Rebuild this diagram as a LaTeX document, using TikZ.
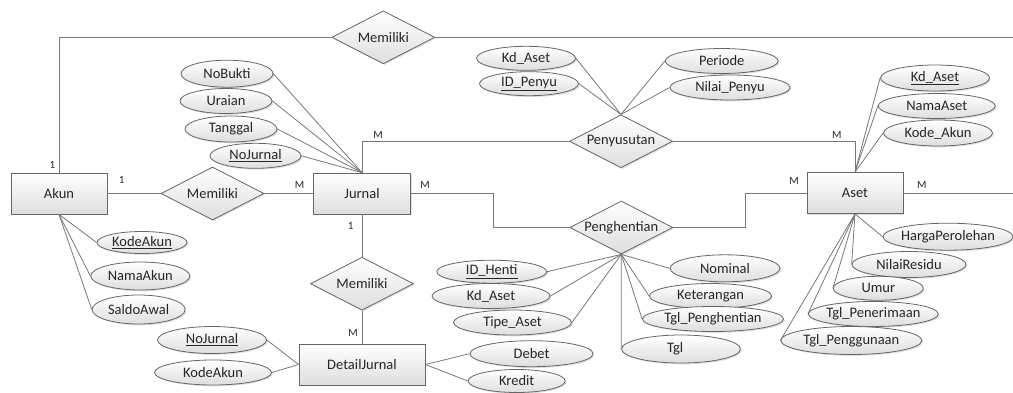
\documentclass[tikz,border=0pt]{standalone}
\usepackage{fontspec}
\setmainfont{Carlito}
\usetikzlibrary{shapes.geometric,shadows}
\definecolor{ln}{HTML}{787878}
\definecolor{edge}{HTML}{666666}
\definecolor{tx}{HTML}{262626}
\begin{document}
\begin{tikzpicture}[x=1pt,y=-1pt,
  base/.style={draw=edge, line width=0.8pt, top color=white, bottom color=black!13,
    drop shadow={opacity=0.25, shadow xshift=1.3pt, shadow yshift=-1.3pt},
    text=tx, font=\fontsize{14.5}{16}\selectfont, inner sep=0pt},
  entity/.style={base, rectangle, minimum width=#1, minimum height=41pt},
  attr/.style 2 args={base, ellipse, inner xsep=-8pt, minimum width=#1, minimum height=#2},
  rel/.style={base, diamond, aspect=2, minimum width=103pt, minimum height=53pt},
  conn/.style={draw=ln, line width=0.8pt},
  card/.style={text=tx, font=\fontsize{11}{12}\selectfont, inner sep=0pt}]
\useasboundingbox (0,0) rectangle (1013,392);
\fill[white] (0,0) rectangle (1013,392);

% entities
\node[entity=96pt] (Akun) at (59,193.5) {Akun};
\node[entity=97pt] (Jurnal) at (362,193.5) {Jurnal};
\node[entity=96pt] (Aset) at (855,193) {Aset};
\node[entity=126pt] (DJ) at (362,364.5) {DetailJurnal};

% relationships
\node[rel] (R1) at (383.3,37.3) {Memiliki};
\node[rel] (R2) at (212.5,193.5) {Memiliki};
\node[rel] (R3) at (362,283.7) {Memiliki};
\node[rel] (Pys) at (621,141.3) {Penyusutan};
\node[rel] (Phn) at (621.3,227.5) {Penghentian};

% Jurnal attributes
\node[attr={92pt}{27pt}] (NoBukti) at (227,73.7) {NoBukti};
\node[attr={92pt}{25pt}] (Uraian) at (226,101) {Uraian};
\node[attr={92pt}{26pt}] (Tanggal) at (231,129) {Tanggal};
\node[attr={91pt}{25pt}] (JNo) at (255.5,155.8) {\underline{NoJurnal}};

% Akun attributes
\node[attr={90pt}{22pt}] (AKode) at (142,242.5) {\underline{KodeAkun}};
\node[attr={99pt}{28pt}] (ANama) at (140.3,276) {NamaAkun};
\node[attr={93pt}{29pt}] (ASaldo) at (138.6,309.5) {SaldoAwal};

% DetailJurnal attributes
\node[attr={109pt}{27pt}] (DNo) at (212,340) {\underline{NoJurnal}};
\node[attr={117pt}{25pt}] (DKode) at (213,372.5) {KodeAkun};
\node[attr={123pt}{26pt}] (Debet) at (531.5,353.7) {Debet};
\node[attr={97pt}{23pt}] (Kredit) at (516.7,381) {Kredit};

% Penyusutan attributes
\node[attr={99pt}{24pt}] (PKd) at (526,58.3) {Kd\_Aset};
\node[attr={99pt}{24pt}] (PID) at (529,83.7) {\underline{ID\_Penyu}};
\node[attr={113pt}{25pt}] (Periode) at (721.7,61) {Periode};
\node[attr={120pt}{25pt}] (NilaiP) at (730,87.5) {Nilai\_Penyu};

% Penghentian attributes
\node[attr={110pt}{23pt}] (HID) at (491.7,271.7) {\underline{ID\_Henti}};
\node[attr={118pt}{25pt}] (HKd) at (491,296) {Kd\_Aset};
\node[attr={118pt}{25pt}] (Tipe) at (512.5,322.5) {Tipe\_Aset};
\node[attr={110pt}{27pt}] (Nominal) at (725,268.3) {Nominal};
\node[attr={122pt}{25pt}] (Ket) at (710.5,296) {Keterangan};
\node[attr={141pt}{25pt}] (TglP) at (713,319) {Tgl\_Penghentian};
\node[attr={118pt}{28pt}, text width=100pt, align=left] (Tgl) at (681,349) {\hspace*{36pt}Tgl};

% Aset attributes
\node[attr={109pt}{26pt}] (SKd) at (935,78) {\underline{Kd\_Aset}};
\node[attr={117pt}{25pt}] (SNama) at (936.7,106) {NamaAset};
\node[attr={109pt}{26pt}] (SKode) at (938,133) {Kode\_Akun};
\node[attr={130pt}{27pt}] (Harga) at (948,236.7) {HargaPerolehan};
\node[attr={114pt}{26pt}] (Residu) at (909,264.5) {NilaiResidu};
\node[attr={90pt}{24pt}] (Umur) at (878.3,288.3) {Umur};
\node[attr={130pt}{25pt}] (Terima) at (873.3,314) {Tgl\_Penerimaan};
\node[attr={141pt}{28pt}] (Guna) at (851.3,340.5) {Tgl\_Penggunaan};

% free ends at the right edge
\coordinate (edgeTop) at (1013,37.3);
\coordinate (edgeAset) at (1013,193);

% relationship connectors
\draw[conn] (Akun.north) |- (R1.west);
\draw[conn] (R1.east) -- (edgeTop);
\draw[conn] (Akun.east) -- (R2.west);
\draw[conn] (R2.east) -- (Jurnal.west);
\draw[conn] (Jurnal.north) |- (Pys.west);
\draw[conn] (Pys.east) -| (Aset.north);
\draw[conn] (Jurnal.east) -- ++(82.7,0) |- (Phn.west);
\draw[conn] (Phn.east) -- ++(72,0) |- (Aset.west);
\draw[conn] (Aset.east) -- (edgeAset);
\draw[conn] (Jurnal.south) -- (R3.north);
\draw[conn] (R3.south) -- (DJ.north);

% attribute connectors
\foreach \a in {NoBukti,Uraian,Tanggal,JNo} \draw[conn] (\a.east) -- (Jurnal.north);
\foreach \a in {AKode,ANama,ASaldo} \draw[conn] (Akun.south) -- (\a.west);
\foreach \a in {DNo,DKode} \draw[conn] (\a.east) -- (DJ.west);
\foreach \a in {Debet,Kredit} \draw[conn] (DJ.east) -- (\a.west);
\foreach \a in {PKd,PID} \draw[conn] (\a.east) -- (Pys.north);
\foreach \a in {Periode,NilaiP} \draw[conn] (\a.west) -- (Pys.north);
\foreach \a in {HID,HKd,Tipe} \draw[conn] (Phn.south) -- (\a.east);
\foreach \a in {Nominal,Ket,TglP,Tgl} \draw[conn] (Phn.south) -- (\a.west);
\foreach \a in {SKd,SNama,SKode} \draw[conn] (Aset.north) -- (\a.west);
\foreach \a in {Harga,Residu,Umur,Terima,Guna} \draw[conn] (Aset.south) -- (\a.west);

% cardinalities
\node[card] (c1) at (52.3,164.5) {1};
\node[card] (c2) at (121.7,180) {1};
\node[card] (c3) at (299.5,185) {M};
\node[card] (c4) at (378,135) {M};
\node[card] (c5) at (836.7,135) {M};
\node[card] (c6) at (425,184.5) {M};
\node[card] (c7) at (794,181) {M};
\node[card] (c8) at (921.7,184.5) {M};
\node[card] (c9) at (350.7,226) {1};
\node[card] (c10) at (353,333) {M};
\end{tikzpicture}
\end{document}
